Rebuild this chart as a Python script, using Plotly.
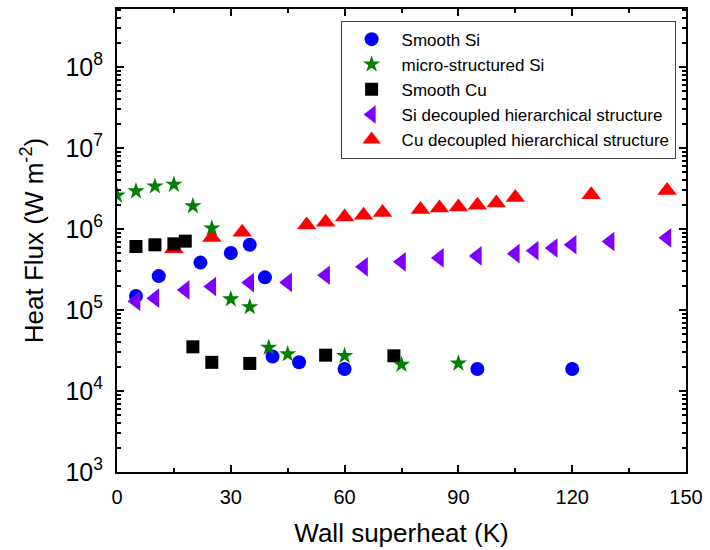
import plotly.graph_objects as go

# ---- data ----
smooth_si_x = [5, 11, 22, 30, 35, 39, 41, 48, 60, 95, 120]
smooth_si_y = [1.49e5, 2.62e5, 3.85e5, 5.06e5, 6.38e5, 2.53e5, 2.67e4, 2.26e4, 1.87e4, 1.87e4, 1.87e4]

micro_si_x = [0, 5, 10, 15, 20, 25, 30, 35, 40, 45, 60, 75, 90]
micro_si_y = [2.6e6, 2.93e6, 3.37e6, 3.54e6, 1.92e6, 1.02e6, 1.36e5, 1.09e5, 3.44e4, 2.85e4, 2.72e4, 2.12e4, 2.19e4]

smooth_cu_x = [5, 10, 15, 18, 20, 25, 35, 55, 73]
smooth_cu_y = [6.08e5, 6.38e5, 6.56e5, 7.08e5, 3.51e4, 2.26e4, 2.19e4, 2.77e4, 2.72e4]

si_hier_x = [5, 10, 18, 25, 35, 45, 55, 65, 75, 85, 95, 105, 110, 115, 120, 130, 145]
si_hier_y = [1.28e5, 1.40e5, 1.77e5, 1.95e5, 2.18e5, 2.19e5, 2.69e5, 3.41e5, 3.93e5, 4.4e5,
             4.65e5, 4.96e5, 5.4e5, 5.82e5, 6.38e5, 7.0e5, 7.77e5]

cu_hier_x = [15, 25, 33, 50, 55, 60, 65, 70, 80, 85, 90, 95, 100, 105, 125, 145]
cu_hier_y = [5.7e5, 7.84e5, 9.1e5, 1.12e6, 1.21e6, 1.41e6, 1.48e6, 1.6e6, 1.74e6, 1.82e6,
             1.87e6, 1.96e6, 2.09e6, 2.44e6, 2.65e6, 2.99e6]

series_names = ["Smooth Si", "micro-structured Si", "Smooth Cu",
                "Si decoupled hierarchical structure", "Cu decoupled hierarchical structure"]

x_title = "Wall superheat (K)"
y_title = "Heat Flux (W m<sup>-2</sup>)"

FONT = "Arial, 'Liberation Sans', sans-serif"

fig = go.Figure()

def add(x, y, name, symbol, color, size, rank):
    fig.add_trace(go.Scatter(
        x=x, y=y, mode="markers", name=name, legendrank=rank,
        marker=dict(symbol=symbol, color=color, size=size, line=dict(width=0)),
    ))

# draw order chosen to match overlaps
add(cu_hier_x, cu_hier_y, series_names[4], "triangle-up", "#FF0000", 17, 5)
add(smooth_si_x, smooth_si_y, series_names[0], "circle", "#0000FF", 14, 1)
add(si_hier_x, si_hier_y, series_names[3], "triangle-left", "#8000FF", 17, 4)
add(smooth_cu_x, smooth_cu_y, series_names[2], "square", "#000000", 13, 3)
add(micro_si_x, micro_si_y, series_names[1], "star", "#008000", 13, 2)

axis_common = dict(
    showline=True, linewidth=2, linecolor="black", mirror="allticks",
    ticks="inside", ticklen=7, tickwidth=2, tickcolor="black",
    showgrid=False, zeroline=False,
    tickfont=dict(family=FONT, size=20, color="black"),
)

fig.update_xaxes(
    range=[0, 150], tick0=0, dtick=30,
    minor=dict(ticks="inside", ticklen=4, tickwidth=2, tickcolor="black", dtick=15, showgrid=False),
    title=dict(text=x_title, font=dict(family=FONT, size=26, color="black"), standoff=17),
    ticklabelstandoff=6,
    **axis_common,
)
fig.update_yaxes(
    type="log", range=[3, 8.716], dtick=1, exponentformat="power",
    minor=dict(ticks="inside", ticklen=4, tickwidth=2, tickcolor="black", dtick="D1", showgrid=False),
    title=dict(text=y_title, font=dict(family=FONT, size=26, color="black"), standoff=14),
    ticklabelstandoff=8,
    **axis_common,
)

fig.update_layout(
    width=710, height=550,
    margin=dict(l=117, r=18, t=7, b=74),
    paper_bgcolor="white", plot_bgcolor="white",
    showlegend=True,
    legend=dict(
        x=0.393, y=0.975, xanchor="left", yanchor="top",
        bgcolor="white", bordercolor="#444444", borderwidth=1,
        font=dict(family=FONT, size=17, color="black"),
        itemwidth=50,
    ),
    font=dict(family=FONT, color="black"),
)

fig.write_html("out.html")
